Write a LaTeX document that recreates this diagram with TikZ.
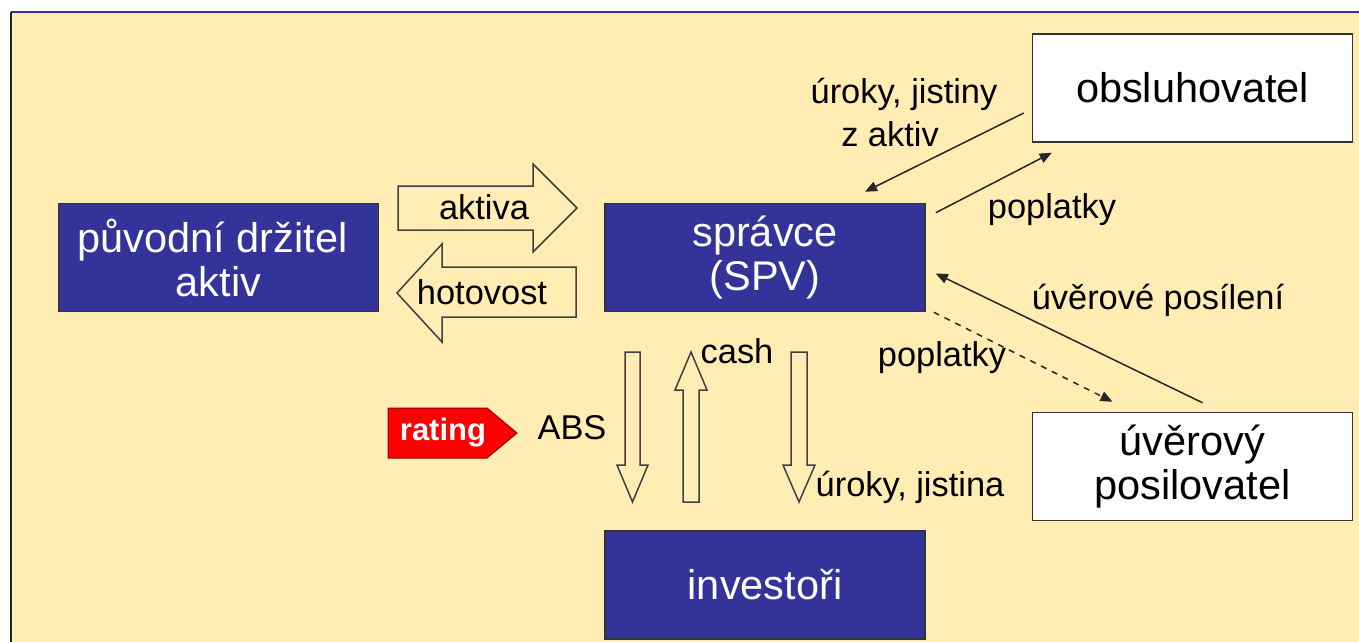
\documentclass[tikz,border=0pt]{standalone}
\usepackage{fontspec}
\setmainfont{Liberation Sans}
\usetikzlibrary{calc,arrows.meta}

\definecolor{panel}{RGB}{255,237,180}
\definecolor{boxblue}{RGB}{51,51,153}

\begin{document}
\begin{tikzpicture}[x=0.5pt,y=-0.5pt,
  bluebox/.style={draw=black!80,line width=0.75pt,fill=boxblue,text=white,
    minimum width=160pt,minimum height=54pt,inner sep=0pt,align=center,
    font=\fontsize{20.75}{22}\selectfont},
  whitebox/.style={bluebox,fill=white,text=black},
  lbl/.style={align=center,inner sep=0pt,font=\fontsize{17.2}{20}\selectfont},
  flow/.style={draw=black!85,line width=0.75pt,-{Triangle[length=6pt,width=5pt]}},
  fat/.style={draw=black!75,line width=0.75pt,fill=panel,line join=miter}]
\useasboundingbox (0,0) rectangle (1359,642);
\fill[panel] (11,12) rectangle (1359,642);
\draw[boxblue,line width=1pt] (11,12) -- (1359,12);
\draw[black!85,line width=1pt] (11,12) -- (11,642);

% parties
\node[bluebox] (holder) at (218.5,257.5) {původní držitel\hspace*{6pt}\\aktiv};
\node[bluebox] (spv) at (765,257.5) {správce\\(SPV)};
\node[bluebox] (inv) at (765,585) {investoři};
\node[whitebox] (servicer) at (1192.5,88) {obsluhovatel};
\node[whitebox] (enhancer) at (1192.5,466.5) {úvěrový\\posilovatel};

% block arrows
\draw[fat] (398,186) -- (533,186) -- (533,164) -- (577,208) -- (533,252)
  -- (533,230) -- (398,230) -- cycle;
\node[lbl] (assets) at (484,207) {aktiva};
\draw[fat] (576,267) -- (442,267) -- (442,244) -- (397,293) -- (442,342)
  -- (442,317) -- (576,317) -- cycle;
\node[lbl] (money) at (482,292) {hotovost};

\draw[fat] (625,352) -- (640,352) -- (640,465) -- (648,465) -- (632.5,502)
  -- (617,465) -- (625,465) -- cycle;
\draw[fat] (683,502) -- (683,390) -- (675,390) -- (691,352) -- (707,390)
  -- (699,390) -- (699,502) -- cycle;
\draw[fat] (791,352) -- (807,352) -- (807,465) -- (815,465) -- (799,502)
  -- (783,465) -- (791,465) -- cycle;

% rating tag
\filldraw[fill=red,draw=red!55!black,line width=0.5pt] (388,408) -- (487,408)
  -- (517,433) -- (487,458) -- (388,458) -- cycle;
\node[text=white,inner sep=0pt,font=\fontsize{15.5}{18}\selectfont\bfseries]
  (rating) at (443,433) {rating};
\node[lbl] (abs) at (572,428) {ABS};
\node[lbl] (cash) at (737,351) {cash};
\node[lbl] (coupons) at (910,487) {úroky, jistina};

% thin flows
\draw[flow] ($(servicer.west)+(-8,25)$) -- ($(spv.north)+(100,-11)$);
\draw[flow] ($(spv.north east)+(10,10)$) -- ($(servicer.south west)+(20,10)$);
\draw[flow] ($(enhancer.north)+(10,-9)$) -- ($(spv.east)+(10,16)$);
\draw[flow,dashed] ($(spv.south east)+(8,0)$) -- ($(enhancer.north)+(-80,-10)$);

\node[lbl] (interest) at (904,94) {úroky, jistiny};
\node[lbl] (interest2) at (890,134) {z aktiv};
\node[lbl] (fees) at (1052,210) {poplatky};
\node[lbl] (support) at (1158,300) {úvěrové posílení};
\node[lbl] (fees2) at (942,358) {poplatky};
\end{tikzpicture}
\end{document}
